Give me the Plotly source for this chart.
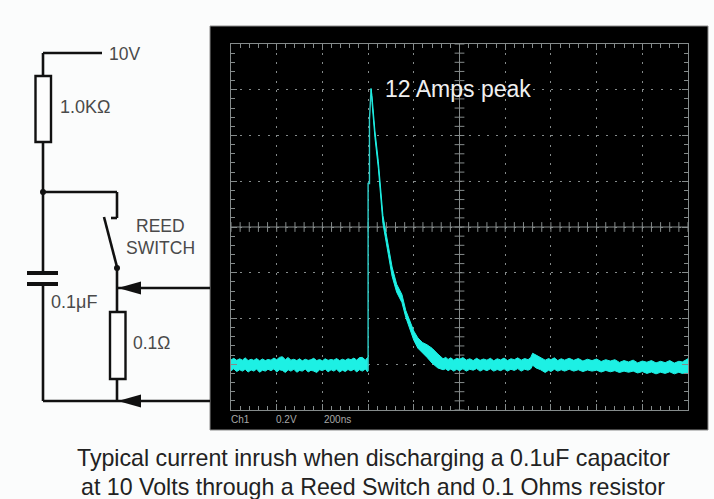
import plotly.graph_objects as go

W, H = 714, 499
L, R, T, B = 231, 688, 44, 410

CYAN = "#1DF0E4"
THIN = "#2FCFCA"
GRID = "#858B8B"
INK = "#111111"
LABEL = "#4A4A4A"

# --- oscilloscope trace: time in ns, level in volts (0.2 V/div, 200 ns/div) ---
base_t = [0, 12, 25, 38, 50, 62, 75, 88, 100, 112, 125, 138, 150, 162, 175, 188, 200, 212, 225, 238, 250, 262, 275, 288, 300, 312, 325, 338, 350, 362, 375, 388, 400, 412, 425, 438, 450, 462, 475, 488, 500, 512, 525, 538, 550, 562, 575, 588, 598]
base_up = [.019, .026, .017, .024, .018, .028, .016, .022, .017, .025, .015, .023, .016, .021, .018, .027, .02, .03, .033, .02, .03, .018, .022, .016, .024, .015, .022, .017, .02, .026, .016, .021, .015, .024, .017, .021, .018, .025, .016, .022, .017, .024, .02, .027, .018, .029, .03, .018, .03]
base_lo = [-.028, -.02, -.032, -.024, -.03, -.022, -.034, -.025, -.03, -.021, -.035, -.026, -.03, -.022, -.028, -.02, -.034, -.024, -.027, -.036, -.024, -.03, -.022, -.035, -.027, -.03, -.021, -.034, -.026, -.03, -.036, -.024, -.028, -.021, -.033, -.024, -.03, -.022, -.034, -.026, -.032, -.023, -.029, -.022, -.034, -.024, -.03, -.021, -.034]

rise_t = [600, 600, 606, 606, 613]
rise_v = [-.03, .79, .79, 1.07, 1.205]

tail_t = [613, 617, 630, 645, 665, 685, 705, 725, 748, 765, 783, 800, 818, 838, 858, 880, 905, 928, 940, 950, 962, 975, 988, 1000, 1015, 1030, 1045, 1060, 1075, 1090, 1105, 1120, 1135, 1150, 1165, 1180, 1195, 1210, 1225, 1240, 1255, 1270, 1285, 1300, 1312, 1320, 1335, 1355, 1375, 1390, 1400, 1415, 1430, 1445, 1460, 1480, 1500, 1520, 1540, 1560, 1580, 1600, 1620, 1640, 1660, 1680, 1700, 1720, 1740, 1760, 1780, 1800, 1820, 1840, 1860, 1880, 1900, 1920, 1940, 1960, 1975, 2000]
tail_up = [1.205, 1.175, 1.02, .885, .65, .53, .425, .35, .305, .235, .19, .145, .115, .095, .085, .07, .045, .024, .03, .021, .028, .018, .026, .022, .029, .018, .024, .016, .026, .017, .023, .018, .026, .015, .024, .019, .027, .016, .024, .02, .028, .018, .025, .02, .03, .048, .04, .028, .018, .025, .02, .028, .016, .024, .018, .026, .017, .025, .014, .022, .016, .023, .012, .02, .014, .02, .008, .016, .01, .018, .006, .014, .009, .016, .006, .013, .007, .016, .005, .013, .01, .024]
tail_lo = [1.205, 1.145, .99, .855, .615, .495, .385, .315, .27, .205, .15, .105, .07, .05, .03, .005, -.016, -.024, -.02, -.028, -.021, -.03, -.022, -.028, -.02, -.03, -.022, -.026, -.019, -.03, -.022, -.028, -.02, -.03, -.023, -.028, -.02, -.03, -.022, -.027, -.019, -.03, -.022, -.026, -.02, -.004, -.016, -.024, -.036, -.026, -.032, -.022, -.03, -.024, -.03, -.022, -.03, -.024, -.032, -.025, -.03, -.026, -.034, -.027, -.033, -.028, -.036, -.03, -.035, -.03, -.038, -.032, -.04, -.034, -.042, -.035, -.04, -.033, -.042, -.035, -.04, -.036]

fr_x = 1000
fr_y = .6
cross_x = [i * 40 for i in range(51)]
cross_y = [-.2 + i * .04 for i in range(41)]

# --- text ---
peak_label = "12 Amps peak"
scope_labels = ["Ch1", "0.2V", "200ns"]
caption = ["Typical current inrush when discharging a 0.1uF capacitor",
           "at 10 Volts through a Reed Switch and 0.1 Ohms resistor"]


def px(x):
    return x / W


def py(y):
    return 1 - y / H


fig = go.Figure()

# centre graticule
fig.add_trace(go.Scatter(x=[0, 2000], y=[fr_y, fr_y], mode="lines", line=dict(color=GRID, width=1), hoverinfo="skip"))
fig.add_trace(go.Scatter(x=[fr_x, fr_x], y=[-.2, 1.4], mode="lines", line=dict(color=GRID, width=1), hoverinfo="skip"))
fig.add_trace(go.Scatter(x=cross_x, y=[fr_y] * len(cross_x), mode="markers",
                         marker=dict(symbol="line-ns-open", size=7, color=GRID, line=dict(color=GRID, width=1)), hoverinfo="skip"))
fig.add_trace(go.Scatter(x=[fr_x] * len(cross_y), y=cross_y, mode="markers",
                         marker=dict(symbol="line-ew-open", size=7, color=GRID, line=dict(color=GRID, width=1)), hoverinfo="skip"))

# trace
fig.add_trace(go.Scatter(x=base_t + base_t[::-1], y=base_up + base_lo[::-1], mode="lines", fill="toself",
                         fillcolor=CYAN, line=dict(color=CYAN, width=1), name="baseline"))
fig.add_trace(go.Scatter(x=rise_t, y=rise_v, mode="lines", line=dict(color=THIN, width=1.4), name="rise"))
fig.add_trace(go.Scatter(x=tail_t + tail_t[::-1], y=tail_up + tail_lo[::-1], mode="lines", fill="toself",
                         fillcolor=CYAN, line=dict(color=CYAN, width=1), name="decay"))

axis = dict(showticklabels=False, showgrid=True, gridcolor=GRID, griddash="2px,7.14px", gridwidth=1.4,
            zeroline=False, showline=True, linecolor=GRID, linewidth=1, mirror="allticks",
            ticks="inside", ticklen=6, tickcolor=GRID, tickwidth=1)
fig.update_xaxes(range=[0, 2000], dtick=200, tick0=0, domain=[px(L), px(R)],
                 minor=dict(dtick=40, ticks="inside", ticklen=4, tickcolor=GRID, showgrid=False), **axis)
fig.update_yaxes(range=[-.2, 1.4], dtick=.2, tick0=-.2, domain=[py(B), py(T)],
                 minor=dict(dtick=.04, tick0=-.2, ticks="inside", ticklen=4, tickcolor=GRID, showgrid=False), **axis)

shapes = []


def wire(x0, y0, x1, y1, w=2.6):
    shapes.append(dict(type="line", xref="paper", yref="paper", x0=px(x0), y0=py(y0), x1=px(x1), y1=py(y1),
                       line=dict(color=INK, width=w)))


def box(x0, y0, x1, y1):
    shapes.append(dict(type="rect", xref="paper", yref="paper", x0=px(x0), y0=py(y0), x1=px(x1), y1=py(y1),
                       line=dict(color=INK, width=2.4), fillcolor="#FDFDFD"))


def dot(x, y, r=3):
    shapes.append(dict(type="circle", xref="paper", yref="paper", x0=px(x - r), y0=py(y - r), x1=px(x + r), y1=py(y + r),
                       line=dict(color=INK, width=0), fillcolor=INK))


def arrow(tip, y, base, half):
    shapes.append(dict(type="path", xref="paper", yref="paper",
                       path=f"M{px(tip)},{py(y)} L{px(base)},{py(y - half)} L{px(base)},{py(y + half)} Z",
                       line=dict(color=INK, width=0), fillcolor=INK))


# scope panel
shapes.append(dict(type="rect", xref="paper", yref="paper", layer="below", x0=px(210), y0=py(26), x1=px(708), y1=py(430),
                   line=dict(color="#8C8C8C", width=1), fillcolor="#000000"))

# circuit
wire(43, 53, 102, 53)
wire(43, 53, 43, 76)
wire(43, 142, 43, 273)
wire(43, 284, 43, 401)
wire(43, 401, 210, 401)
wire(43, 192, 117, 192)
wire(117, 192, 117, 218)
wire(117, 218, 111, 218)
wire(104, 217, 117, 267)
wire(117, 267, 117, 401)
wire(117, 288, 210, 288)
wire(27, 273, 58, 273, 4)
wire(27, 284, 58, 284, 4)
box(35.5, 76, 51, 142)
box(110, 312, 125.5, 379)
dot(43, 192)
dot(117, 268)
arrow(118, 288, 141, 6.5)
arrow(118, 401, 141, 6.5)

annotations = []


def text(x, y, s, size, color=LABEL, anchor="left"):
    annotations.append(dict(xref="paper", yref="paper", x=px(x), y=py(y), text=s, showarrow=False,
                            xanchor=anchor, yanchor="middle", font=dict(family="Liberation Sans", size=size, color=color)))


text(107, 54, "10V", 17.5)
text(58, 107, "1.0KΩ", 18)
text(160, 226, "REED", 17.5, anchor="center")
text(160, 248, "SWITCH", 17.5, anchor="center")
text(49, 302, "0.1μF", 18)
text(131, 343, "0.1Ω", 17.5)
text(383, 89, peak_label, 23, color="#F0F0F0")
text(229, 419, scope_labels[0], 10, color="#A8A8A8")
text(274, 419, scope_labels[1], 10, color="#A8A8A8")
text(322, 419, scope_labels[2], 10, color="#A8A8A8")
text(373, 458, caption[0], 23.2, color="#222222", anchor="center")
text(373, 487, caption[1], 23.2, color="#222222", anchor="center")

fig.update_layout(width=W, height=H, margin=dict(l=0, r=0, t=0, b=0), showlegend=False,
                  paper_bgcolor="#FBFCFC", plot_bgcolor="rgba(0,0,0,0)", shapes=shapes, annotations=annotations)
fig.write_html("out.html", config={"displayModeBar": False},
               post_script="document.body.style.margin='0';document.body.style.overflow='hidden';")
